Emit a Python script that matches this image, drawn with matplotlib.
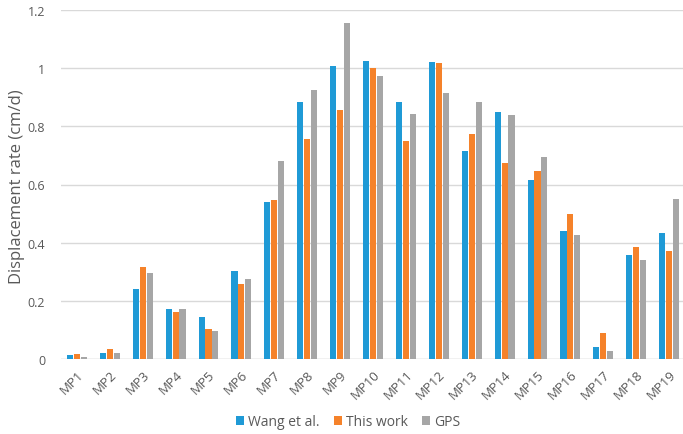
import matplotlib
matplotlib.use("Agg")
import matplotlib.pyplot as plt
import numpy as np

plt.rcParams['font.family'] = ['Open Sans', 'DejaVu Sans']

categories = [f"MP{i}" for i in range(1, 20)]
wang = [0.015, 0.022, 0.239, 0.171, 0.146, 0.302, 0.541, 0.885, 1.008, 1.023,
        0.882, 1.020, 0.714, 0.851, 0.614, 0.439, 0.041, 0.357, 0.432]
this_work = [0.018, 0.034, 0.316, 0.160, 0.103, 0.257, 0.547, 0.755, 0.855, 1.001,
             0.751, 1.017, 0.773, 0.673, 0.646, 0.500, 0.089, 0.386, 0.373]
gps = [0.006, 0.019, 0.297, 0.171, 0.097, 0.276, 0.680, 0.925, 1.156, 0.973,
       0.842, 0.915, 0.885, 0.840, 0.695, 0.428, 0.027, 0.342, 0.551]
yticks = [0, 0.2, 0.4, 0.6, 0.8, 1.0, 1.2]
ytick_labels = ["0", "0.2", "0.4", "0.6", "0.8", "1", "1.2"]

W, H = 683, 435
fig = plt.figure(figsize=(W / 100, H / 100), dpi=100)
left, right, bottom, top = 60.5, 685.5, 360, 11
ax = fig.add_axes([left / W, (H - bottom) / H, (right - left) / W, (bottom - top) / H])

x = np.arange(len(categories))
bw = 0.185
step = 0.21
series = [(wang, "#1f9ad6", "Wang et al."),
          (this_work, "#f5822a", "This work"),
          (gps, "#a6a6a6", "GPS")]
for k, (vals, col, lab) in enumerate(series):
    ax.bar(x + (k - 1) * step, vals, width=bw, color=col, label=lab, zorder=3)

ax.set_xlim(-0.5, len(categories) - 0.5)
ax.set_ylim(0, 1.2)
ax.set_yticks(yticks)
ax.set_yticklabels(ytick_labels)
ax.yaxis.grid(True, color="#d9d9d9", linewidth=1.0, zorder=0)
ax.set_axisbelow(True)
for s in ax.spines.values():
    s.set_visible(False)
ax.axhline(0, color="#d9d9d9", linewidth=1.0, zorder=1)

ax.set_xticks(x)
ax.set_xticklabels(categories, rotation=45, ha="right", rotation_mode="anchor",
                   fontsize=9.5, color="#595959")
ax.tick_params(axis="both", length=0)
ax.tick_params(axis="y", labelsize=9, labelcolor="#595959", pad=11)
ax.tick_params(axis="x", pad=6)

fig.text(17 / W, 1 - 187 / H, "Displacement rate (cm/d)", rotation=90,
         ha="center", va="center", fontsize=12, color="#595959")

handles, labels = ax.get_legend_handles_labels()
fig.legend(handles, labels, loc="center", bbox_to_anchor=(348 / W, 1 - 423 / H),
           ncol=3, frameon=False, fontsize=10, handlelength=0.6, handleheight=0.6,
           handletextpad=0.3, columnspacing=1.0, labelcolor="#595959")

fig.savefig("out.png", dpi=100)
